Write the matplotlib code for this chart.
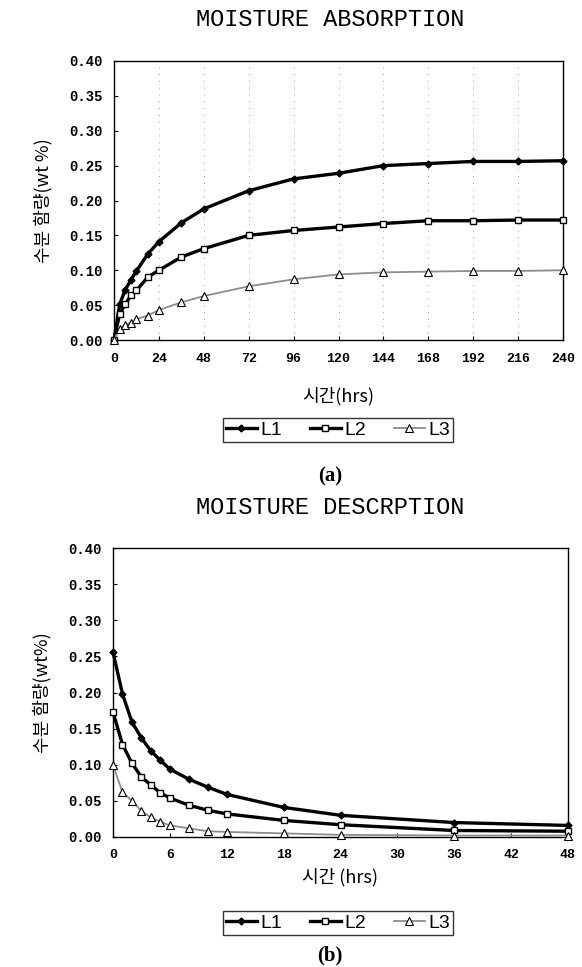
import matplotlib
matplotlib.use('Agg')
import matplotlib.pyplot as plt

plt.rcParams['font.family'] = ['Noto Sans CJK KR', 'DejaVu Sans']

# moisture absorption (a)
abs_hours = [0, 3, 6, 9, 12, 18, 24, 36, 48, 72, 96, 120, 144, 168, 192, 216, 240]
abs_l1 = [0.0, 0.051, 0.072, 0.086, 0.099, 0.123, 0.141, 0.168, 0.188, 0.214,
          0.231, 0.239, 0.250, 0.253, 0.256, 0.256, 0.257]
abs_l2 = [0.0, 0.037, 0.051, 0.064, 0.071, 0.090, 0.100, 0.119, 0.131, 0.150,
          0.157, 0.162, 0.167, 0.171, 0.171, 0.172, 0.172]
abs_l3 = [0.0, 0.016, 0.021, 0.025, 0.030, 0.035, 0.043, 0.054, 0.063, 0.077,
          0.087, 0.094, 0.097, 0.098, 0.099, 0.099, 0.100]

# moisture desorption (b)
des_hours = [0, 1, 2, 3, 4, 5, 6, 8, 10, 12, 18, 24, 36, 48]
des_l1 = [0.256, 0.198, 0.159, 0.137, 0.119, 0.106, 0.094, 0.080, 0.069, 0.059,
          0.041, 0.030, 0.020, 0.016]
des_l2 = [0.173, 0.128, 0.102, 0.083, 0.072, 0.061, 0.054, 0.044, 0.037, 0.032,
          0.023, 0.017, 0.009, 0.008]
des_l3 = [0.100, 0.062, 0.050, 0.036, 0.027, 0.021, 0.016, 0.012, 0.008, 0.007,
          0.005, 0.003, 0.002, 0.002]

series_names = ['L1', 'L2', 'L3']
y_ticks = [0.0, 0.05, 0.10, 0.15, 0.20, 0.25, 0.30, 0.35, 0.40]
abs_xticks = [0, 24, 48, 72, 96, 120, 144, 168, 192, 216, 240]
des_xticks = [0, 6, 12, 18, 24, 30, 36, 42, 48]

W, H = 582, 967
styles = [
    dict(color='black', lw=2.4, marker='D', ms=3.5, mfc='black', mec='black'),
    dict(color='black', lw=2.4, marker='s', ms=4.5, mfc='white', mec='black', mew=1),
    dict(color='0.55', lw=1.3, marker='^', ms=5.5, mfc='white', mec='black', mew=0.8),
]


def box(left, top, right, bottom):
    return [left / W, 1 - bottom / H, (right - left) / W, (bottom - top) / H]


def draw_panel(fig, rect, hours, series, xticks, ylabel, xlabel, xpad, grid=False):
    ax = fig.add_axes(rect)
    for name, data, st in zip(series_names, series, styles):
        ax.plot(hours, data, label=name, clip_on=False, zorder=3, **st)
    ax.set_xlim(xticks[0], xticks[-1])
    ax.set_ylim(0, 0.40)
    ax.set_xticks(xticks)
    ax.set_yticks(y_ticks)
    ax.set_yticklabels(['%.2f' % v for v in y_ticks],
                       family='Liberation Mono', weight='bold', fontsize=10)
    ax.set_xticklabels([str(v) for v in xticks],
                       family='Liberation Mono', weight='bold', fontsize=9.5)
    ax.tick_params(direction='in', length=3, width=0.8)
    ax.tick_params(axis='x', pad=9)
    ax.tick_params(axis='y', pad=8)
    for sp in ax.spines.values():
        sp.set_linewidth(1.0)
        sp.set_color('black')
    if grid:
        ax.grid(axis='x', color='0.6', linestyle=(0, (1, 6)), linewidth=0.7)
    ax.set_ylabel(ylabel, fontsize=13, labelpad=12)
    ax.set_xlabel(xlabel, fontsize=13, labelpad=xpad)
    return ax


def add_legend(fig, ax, y):
    handles, labels = ax.get_legend_handles_labels()
    leg = fig.legend(handles, labels, loc='center', ncol=3,
                     bbox_to_anchor=(338 / W, 1 - y / H),
                     prop={'family': 'Liberation Sans', 'size': 14},
                     frameon=True, fancybox=False, edgecolor='black',
                     handlelength=1.6, handletextpad=0.2, columnspacing=1.4,
                     borderpad=0.15)
    leg.get_frame().set_linewidth(1.0)


fig = plt.figure(figsize=(W / 100, H / 100), dpi=100)

fig.text(330 / W, 1 - 20 / H, 'MOISTURE ABSORPTION', ha='center', va='center',
         family='Liberation Mono', fontsize=17)
ax1 = draw_panel(fig, box(114, 61, 563, 340), abs_hours, [abs_l1, abs_l2, abs_l3],
                 abs_xticks, '수분 함량(wt %)', '시간(hrs)', 16, grid=True)
add_legend(fig, ax1, 430)
fig.text(330 / W, 1 - 476 / H, '(a)', ha='center', va='center',
         family='Liberation Serif', weight='bold', fontsize=15)

fig.text(330 / W, 1 - 508 / H, 'MOISTURE DESCRPTION', ha='center', va='center',
         family='Liberation Mono', fontsize=17)
ax2 = draw_panel(fig, box(113, 548, 568, 837), des_hours, [des_l1, des_l2, des_l3],
                 des_xticks, '수분 함량(wt%)', '시간 (hrs)', 5)
add_legend(fig, ax2, 923)
fig.text(330 / W, 1 - 955 / H, '(b)', ha='center', va='center',
         family='Liberation Serif', weight='bold', fontsize=15)

fig.savefig('out.png', dpi=100)
